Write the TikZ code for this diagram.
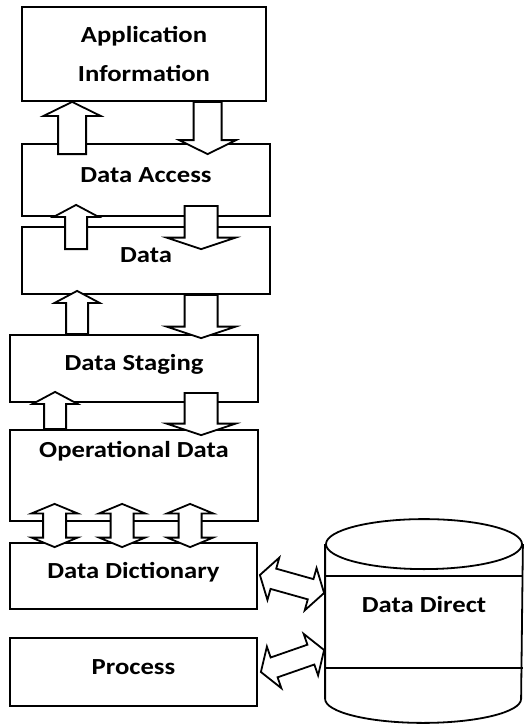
\documentclass[tikz,border=0pt]{standalone}
\usepackage{fontspec}
\usetikzlibrary{calc}
\newfontfamily\layerfont{Carlito}[FakeStretch=1.16]

\tikzset{
    shaftw/.store in=\blkshaft,
    headw/.store in=\blkhead,
    headl/.store in=\blklen,
    shaftw=5pt, headw=10pt, headl=6pt,
    layer/.style={
        rectangle,
        draw=black,
        line width=0.9pt,
        inner sep=0pt,
        align=center,
        font=\layerfont\bfseries\fontsize{11.5}{19.5}\selectfont
    },
    oneline/.style={layer, text height=8pt, text depth=6pt},
    storeline/.style={draw=black, line width=0.9pt},
    % hollow block arrow, tip at the target
    hollow/.style={
        draw=black, fill=white, line width=0.9pt, line join=miter,
        to path={
            let \p1=(\tikztostart), \p2=(\tikztotarget),
                \p3=($(\p2)!\blklen!(\p1)$) in
            ($(\p1)!\blkshaft!90:(\p2)$) -- ($(\p3)!\blkshaft!90:(\p2)$)
            -- ($(\p3)!\blkhead!90:(\p2)$) -- (\p2)
            -- ($(\p3)!\blkhead!-90:(\p2)$) -- ($(\p3)!\blkshaft!-90:(\p2)$)
            -- ($(\p1)!\blkshaft!-90:(\p2)$) -- cycle
        }
    },
    % hollow block arrow with a tip at both ends
    hollow double/.style={
        draw=black, fill=white, line width=0.9pt, line join=miter,
        to path={
            let \p1=(\tikztostart), \p2=(\tikztotarget),
                \p3=($(\p1)!\blklen!(\p2)$), \p4=($(\p2)!\blklen!(\p1)$) in
            (\p1) -- ($(\p3)!\blkhead!90:(\p2)$) -- ($(\p3)!\blkshaft!90:(\p2)$)
            -- ($(\p4)!\blkshaft!90:(\p2)$) -- ($(\p4)!\blkhead!90:(\p2)$) -- (\p2)
            -- ($(\p4)!\blkhead!-90:(\p2)$) -- ($(\p4)!\blkshaft!-90:(\p2)$)
            -- ($(\p3)!\blkshaft!-90:(\p2)$) -- ($(\p3)!\blkhead!-90:(\p2)$) -- cycle
        }
    },
    toparrow/.style={hollow, shaftw=7pt, headw=14.25pt, headl=7pt},
    thinarrow/.style={hollow, shaftw=5.5pt, headw=11.25pt, headl=6pt},
    widearrow/.style={hollow, shaftw=8.25pt, headw=17.25pt, headl=5.75pt},
    linkarrow/.style={hollow double, shaftw=5.75pt, headw=11.5pt, headl=4.75pt},
    sidearrow/.style={hollow double, shaftw=5.25pt, headw=11pt, headl=7pt}
}

\begin{document}
\begin{tikzpicture}[x=0.5pt, y=0.5pt]
\useasboundingbox (0,0) rectangle (526,-724);

% layer stack
\node[layer, minimum width=122pt, minimum height=47pt] (app) at (144,-54) {Application\\Information};
\node[oneline, minimum width=124pt, minimum height=36pt] (access) at (146,-180) {Data Access};
\node[oneline, minimum width=124pt, minimum height=33.5pt] (data) at (146,-260.5) {Data};
\node[oneline, minimum width=124pt, minimum height=33.5pt] (staging) at (134,-368.5) {Data Staging};
\node[oneline, text depth=26pt, minimum width=124pt, minimum height=45.5pt] (opdata) at (134,-475.5) {Operational Data};
\node[oneline, minimum width=123.5pt, minimum height=33pt] (dict) at (133.5,-576) {Data Dictionary};
\node[oneline, minimum width=123.5pt, minimum height=34pt] (process) at (133.5,-672) {Process};

% data store
\node[oneline, draw=none, text depth=17pt, minimum width=98pt, minimum height=76.5pt] (direct) at (424,-621.5) {Data Direct};
\draw[storeline] (direct.north west) -- (direct.south west)
    arc[start angle=180, end angle=360, x radius=49pt, y radius=12pt] -- (direct.north east);
\draw[storeline] (direct.north) ellipse[x radius=49pt, y radius=12.5pt];
\draw[storeline] ($(direct.north west)+(0,-32)$) -- ($(direct.north east)+(0,-32)$);
\draw[storeline] ($(direct.south west)+(0,31)$) -- ($(direct.south east)+(0,31)$);

% app <-> access
\draw[toparrow] ($(access.north west)+(51,-11)$) to ($(app.south west)+(51,0)$);
\draw[toparrow] ($(app.south west)+(186.5,0)$) to ($(access.north west)+(186.5,-11)$);
% access <-> data
\draw[thinarrow] ($(data.north west)+(55,-23)$) to ($(access.south west)+(55,12)$);
\draw[widearrow] ($(access.south west)+(180,11)$) to ($(data.north west)+(180,-23)$);
% data <-> staging
\draw[thinarrow] ($(staging.north west)+(68,0)$) to ($(data.south west)+(56,4)$);
\draw[widearrow] ($(data.south west)+(180,0)$) to ($(staging.north west)+(192,-4)$);
% staging <-> operational data
\draw[thinarrow] ($(opdata.north west)+(46,0)$) to ($(staging.south west)+(46,11)$);
\draw[widearrow] ($(staging.south west)+(192,10)$) to ($(opdata.north west)+(192,-6)$);
% operational data <-> dictionary
\foreach \dx in {45.5,113,181}
    \draw[linkarrow] ($(dict.north west)+(\dx,-5)$) to ($(opdata.south west)+(\dx,18)$);
% links to the store
\draw[sidearrow] ($(dict.east)+(2,1)$) to ($(direct.west)+(-1,28.5)$);
\draw[sidearrow] ($(process.east)+(3,0)$) to ($(direct.west)+(-1,-28.5)$);
\end{tikzpicture}
\end{document}
